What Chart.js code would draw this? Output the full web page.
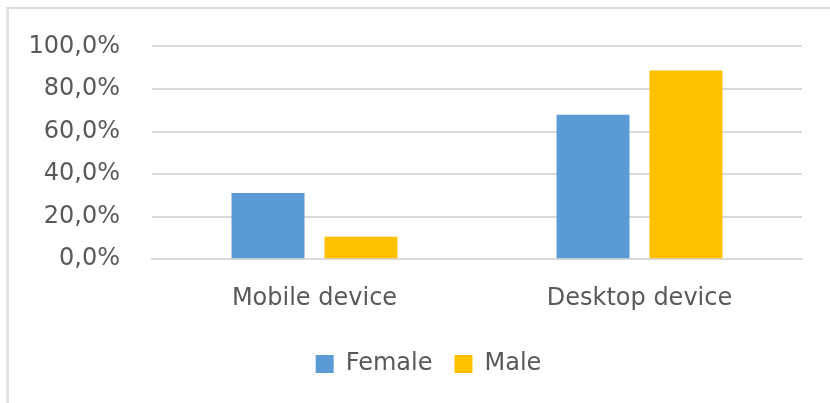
<!DOCTYPE html>
<html>
<head>
<meta charset="utf-8">
<script src="https://cdn.jsdelivr.net/npm/chart.js@4.4.1/dist/chart.umd.min.js"></script>
<style>
    html, body { margin: 0; padding: 0; background: #ffffff; }
    #wrap { position: relative; width: 830px; height: 403px; overflow: hidden; }
    /* frame of the excel chart: only top and left edges are visible */
    #frame { position: absolute; left: 6px; top: 7px; width: 900px; height: 500px;
             border-top: 2px solid #dcdcdc; border-left: 3px solid #e2e2e2; }
    canvas { position: absolute; left: 0; top: 0; }
</style>
</head>
<body>
<div id="wrap">
    <div id="frame"></div>
    <canvas id="id_chart" width="830" height="403"></canvas>
</div>
<script>
// data
var CATEGORIES = ["Mobile device", "Desktop device"];
var FEMALE = [31.1, 67.9];
var MALE = [10.5, 88.7];
var Y_TICKS = [0, 20, 40, 60, 80, 100];

var FONT = "'DejaVu Sans', sans-serif";
var TEXT_COLOR = "#595959";
var GRID_COLOR = "#d9d9d9";

var _formatPercent = function( v ){
    return v.toFixed(1).replace(".", ",") + "%";
};

// move legend a bit to the right (excel centers it a bit differently)
var _legendShift = {
    id: "legendShift",
    afterLayout: function( chart ){
        var lg = chart.legend;
        if( lg ){
            lg.left += 14;
            lg.right += 14;
        }
    }
};

window.onload = function(){
    var ctx = document.getElementById("id_chart").getContext("2d");
    new Chart(ctx, {
        type: "bar",
        data: {
            labels: CATEGORIES,
            datasets: [
                { label: "Female", data: FEMALE, backgroundColor: "#5b9bd5" },
                { label: "Male", data: MALE, backgroundColor: "#ffc000" }
            ]
        },
        options: {
            responsive: false,
            animation: false,
            layout: { padding: { left: 27, right: 28, top: 45, bottom: 17 } },
            datasets: { bar: { categoryPercentage: 0.572, barPercentage: 0.785 } },
            scales: {
                x: {
                    grid: { display: false },
                    border: { display: true, color: GRID_COLOR, width: 2 },
                    ticks: { color: TEXT_COLOR, font: { family: FONT, size: 24 }, padding: 17 }
                },
                y: {
                    min: 0,
                    max: 100,
                    afterBuildTicks: function( axis ){
                        axis.ticks = Y_TICKS.map(function(v){ return { value: v }; });
                    },
                    afterFit: function( axis ){
                        axis.width = 125; // plot starts at x=152
                    },
                    grid: { color: GRID_COLOR, lineWidth: 2, drawTicks: false },
                    border: { display: false },
                    ticks: {
                        color: TEXT_COLOR,
                        font: { family: FONT, size: 24 },
                        padding: 32,
                        callback: function(v){ return _formatPercent(v); }
                    }
                }
            },
            plugins: {
                legend: {
                    position: "bottom",
                    labels: {
                        color: TEXT_COLOR,
                        font: { family: FONT, size: 24 },
                        boxWidth: 18,
                        boxHeight: 18,
                        padding: 22
                    }
                },
                tooltip: { enabled: false }
            }
        },
        plugins: [ _legendShift ]
    });
};
</script>
</body>
</html>
